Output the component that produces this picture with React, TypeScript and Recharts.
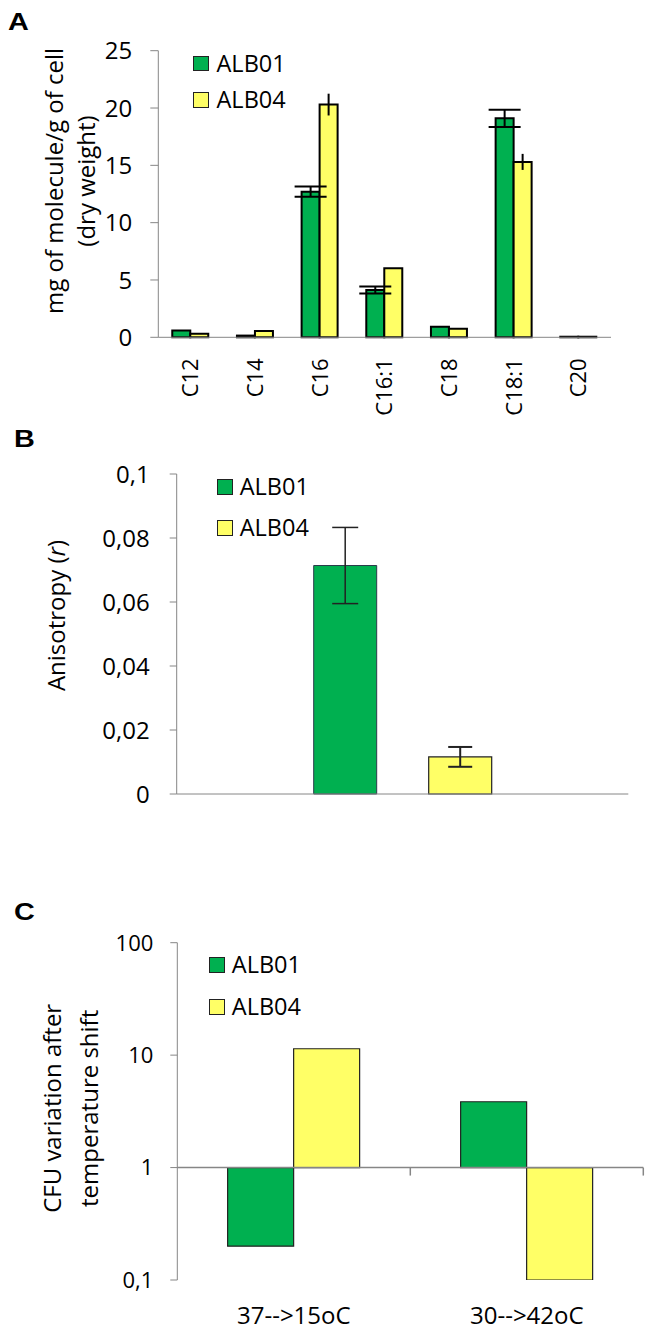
import React from "react";
import { BarChart, Bar, XAxis, YAxis, ErrorBar, Legend, ReferenceLine } from "recharts";

// panel A: fatty acid content
const fattyAcids = ["C12", "C14", "C16", "C16:1", "C18", "C18:1", "C20"];
const alb01Content = [0.6, 0.15, 12.7, 4.13, 0.93, 19.1, 0.05];
const alb01ContentErr = [0, 0, 0.45, 0.3, 0, 0.75, 0];
const alb04Content = [0.3, 0.55, 20.3, 6.02, 0.75, 15.3, 0.05];
const alb04ContentErr = [0, 0, 0.95, 0, 0, 0.7, 0];
const contentTicks = [0, 5, 10, 15, 20, 25];

// panel B: anisotropy
const strains = ["ALB01", "ALB04"];
const anisotropy = [0.0714, 0.0116];
const anisotropyErr = [0.0119, 0.0031];
const anisotropyTicks = [0, 0.02, 0.04, 0.06, 0.08, 0.1];

// panel C: CFU variation (log)
const shifts = ["37-->15oC", "30-->42oC"];
const cfuAlb01 = [0.2, 3.85];
const cfuAlb04 = [11.4, 0.1];
const cfuTicks = [0.1, 1, 10, 100];

const GREEN = "#00B050";
const YELLOW = "#FFFF66";
const AXIS = "#868686";

const comma = (v: number) => String(v).replace(".", ",");

const contentRows = fattyAcids.map((name, i) => ({
    name,
    ALB01: alb01Content[i],
    ALB01Err: alb01ContentErr[i],
    ALB04: alb04Content[i],
    ALB04Err: alb04ContentErr[i],
}));

const anisotropyRow: any = { name: "" };
strains.forEach((s, i) => {
    anisotropyRow[s] = anisotropy[i];
    anisotropyRow[s + "Err"] = anisotropyErr[i];
});

// bars start from 1 on the log axis
const fromOne = (v: number) => [Math.min(1, v), Math.max(1, v)];
const shiftRows = shifts.map((name, i) => ({
    name,
    ALB01: fromOne(cfuAlb01[i]),
    ALB04: fromOne(cfuAlb04[i]),
}));

function YLabel(props: any) {
    const { viewBox, lines, xs, dy, size } = props;
    const cy = viewBox.y + viewBox.height / 2 + dy;
    return (
        <g>
            {lines.map((line: any, i: number) => (
                <text
                    key={i}
                    x={xs[i]}
                    y={cy}
                    transform={`rotate(-90 ${xs[i]} ${cy})`}
                    textAnchor="middle"
                    dy="0.35em"
                    fontSize={size}
                    fill="#000"
                >
                    {line}
                </text>
            ))}
        </g>
    );
}

function RotatedTick(props: any) {
    const { x, y, payload } = props;
    return (
        <text x={x} y={y} transform={`rotate(-90 ${x} ${y})`} textAnchor="end" dy="0.35em" fontSize={22} fill="#000">
            {payload.value}
        </text>
    );
}

// the "1" baseline of panel C, with category boundary ticks hanging below it
function BaselineWithTicks(props: any) {
    const { x1, y1, x2, y2 } = props;
    const n = shifts.length;
    const marks = [];
    for (let k = 1; k <= n; k++) {
        const x = x1 + ((x2 - x1) * k) / n;
        marks.push(<line key={k} x1={x} y1={y1} x2={x} y2={y1 + 8} stroke={AXIS} strokeWidth={1.5} />);
    }
    return (
        <g>
            <line x1={x1} y1={y1} x2={x2} y2={y2} stroke={AXIS} strokeWidth={1.5} />
            {marks}
        </g>
    );
}

const legendContent = (box: number, rowH: number, gap: number) => (props: any) => (
    <div>
        {(props.payload || []).map((e: any) => (
            <div key={e.value} style={{ display: "flex", alignItems: "center", height: rowH }}>
                <span
                    style={{
                        display: "inline-block",
                        width: box,
                        height: box,
                        background: e.color,
                        border: "1.5px solid #222",
                        boxSizing: "border-box",
                        marginRight: gap,
                    }}
                />
                <span style={{ fontSize: 23.5, lineHeight: 1, color: "#000" }}>{e.value}</span>
            </div>
        ))}
    </div>
);

const letterStyle: React.CSSProperties = {
    position: "absolute",
    fontFamily: "'Liberation Sans', Arial, sans-serif",
    fontWeight: "bold",
    fontSize: 24,
    lineHeight: "24px",
    transform: "scaleX(1.2)",
    transformOrigin: "left top",
};

export default function App() {
    const edgesA = fattyAcids.map((_, i) => i).concat(fattyAcids.length);
    return (
        <div
            style={{
                position: "absolute",
                left: 0,
                top: 0,
                width: 650,
                height: 1333,
                background: "#fff",
                fontFamily: "'Open Sans', sans-serif",
            }}
        >
            <div style={{ ...letterStyle, left: 8, top: 10 }}>A</div>
            <div style={{ ...letterStyle, left: 14, top: 427 }}>B</div>
            <div style={{ ...letterStyle, left: 14, top: 900 }}>C</div>

            <div style={{ position: "absolute", left: 0, top: 0 }}>
                <BarChart
                    width={650}
                    height={420}
                    data={contentRows}
                    margin={{ top: 50.7, right: 39, bottom: 0, left: 0 }}
                    barCategoryGap="21.6%"
                    barGap={0}
                >
                    <XAxis xAxisId="b" dataKey="name" height={72.7} axisLine={false} tickLine={false} tickSize={0} tickMargin={11} interval={0} tick={(p: any) => <RotatedTick {...p} />} />
                    <XAxis xAxisId="a" type="number" domain={[0, fattyAcids.length]} ticks={edgesA} tick={false} tickSize={9} height={10} stroke={AXIS} />
                    <YAxis
                        width={158.3}
                        domain={[0, 25]}
                        ticks={contentTicks}
                        tickSize={8}
                        tickMargin={18}
                        stroke={AXIS}
                        tick={{ fill: "#000", fontSize: 24 }}
                        label={{
                            content: (p: any) => (
                                <YLabel {...p} lines={["mg of molecule/g of cell", "(dry weight)"]} xs={[55, 87]} dy={-13} size={24} />
                            ),
                        }}
                    />
                    <Legend
                        layout="vertical"
                        align="center"
                        verticalAlign="middle"
                        wrapperStyle={{ left: 193, top: 45, width: "auto" }}
                        content={legendContent(15.5, 36.5, 8)}
                    />
                    <Bar xAxisId="b" dataKey="ALB01" fill={GREEN} stroke="#000" strokeWidth={2} isAnimationActive={false}>
                        <ErrorBar dataKey="ALB01Err" width={16} stroke="#000" strokeWidth={2} />
                    </Bar>
                    <Bar xAxisId="b" dataKey="ALB04" fill={YELLOW} stroke="#000" strokeWidth={2} isAnimationActive={false}>
                        <ErrorBar dataKey="ALB04Err" width={0} stroke="#000" strokeWidth={2} />
                    </Bar>
                </BarChart>
            </div>

            <div style={{ position: "absolute", left: 0, top: 420 }}>
                <BarChart
                    width={650}
                    height={420}
                    data={[anisotropyRow]}
                    margin={{ top: 54, right: 21.7, bottom: 0, left: 0 }}
                    barSize={63}
                    barGap={52}
                >
                    <XAxis xAxisId="edge" type="number" domain={[0, 1]} ticks={[0, 1]} tick={false} tickSize={9} height={46} stroke={AXIS} />
                    <XAxis xAxisId="cat" dataKey="name" orientation="top" height={0} axisLine={false} tickLine={false} tick={false} />
                    <YAxis
                        width={176.7}
                        domain={[0, 0.1]}
                        ticks={anisotropyTicks}
                        tickFormatter={comma}
                        tickSize={7}
                        tickMargin={20}
                        stroke={AXIS}
                        tick={{ fill: "#000", fontSize: 24 }}
                        label={{
                            content: (p: any) => (
                                <YLabel
                                    {...p}
                                    lines={[
                                        <>
                                            Anisotropy (<tspan fontStyle="italic">r</tspan>)
                                        </>,
                                    ]}
                                    xs={[57]}
                                    dy={-18.5}
                                    size={24}
                                />
                            ),
                        }}
                    />
                    <Legend
                        layout="vertical"
                        align="center"
                        verticalAlign="middle"
                        wrapperStyle={{ left: 216.7, top: 46.75, width: "auto" }}
                        content={legendContent(16, 40.5, 7)}
                    />
                    <Bar xAxisId="cat" dataKey="ALB01" fill={GREEN} stroke="#2a3a4a" strokeWidth={1} isAnimationActive={false}>
                        <ErrorBar dataKey="ALB01Err" width={13} stroke="#222" strokeWidth={1.5} />
                    </Bar>
                    <Bar xAxisId="cat" dataKey="ALB04" fill={YELLOW} stroke="#222" strokeWidth={1.2} isAnimationActive={false}>
                        <ErrorBar dataKey="ALB04Err" width={12} stroke="#222" strokeWidth={2} />
                    </Bar>
                </BarChart>
            </div>

            <div style={{ position: "absolute", left: 0, top: 840 }}>
                <BarChart
                    width={650}
                    height={493}
                    data={shiftRows}
                    margin={{ top: 102.7, right: 6.7, bottom: 0, left: 0 }}
                    barCategoryGap="21.6%"
                    barGap={0}
                >
                    <XAxis dataKey="name" height={53} axisLine={false} tickLine={false} tickMargin={21} interval={0} tick={{ fill: "#000", fontSize: 24 }} />
                    <YAxis
                        width={177.3}
                        scale="log"
                        type="number"
                        domain={[0.1, 100]}
                        ticks={cfuTicks}
                        tickFormatter={comma}
                        allowDataOverflow
                        tickSize={7}
                        tickMargin={17}
                        stroke={AXIS}
                        tick={{ fill: "#000", fontSize: 22 }}
                        label={{
                            content: (p: any) => (
                                <YLabel {...p} lines={["CFU variation after", "temperature shift"]} xs={[53, 90]} dy={-3} size={24} />
                            ),
                        }}
                    />
                    <Legend
                        layout="vertical"
                        align="center"
                        verticalAlign="middle"
                        wrapperStyle={{ left: 209.3, top: 104, width: "auto" }}
                        content={legendContent(16, 42, 6.5)}
                    />
                    <Bar dataKey="ALB01" fill={GREEN} stroke="#222" strokeWidth={1.2} isAnimationActive={false} />
                    <Bar dataKey="ALB04" fill={YELLOW} stroke="#222" strokeWidth={1.2} isAnimationActive={false} />
                    <ReferenceLine y={1} stroke={AXIS} strokeWidth={1.5} shape={(p: any) => <BaselineWithTicks {...p} />} />
                </BarChart>
            </div>
        </div>
    );
}
